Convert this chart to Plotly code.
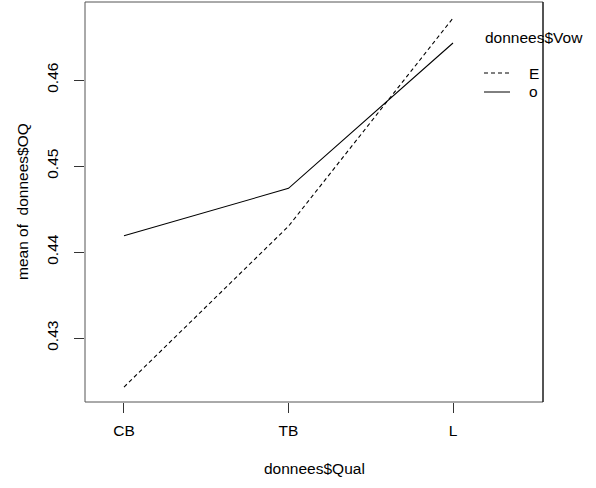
import plotly.graph_objects as go

qual_levels = ["CB", "TB", "L"]
vowel_levels = ["E", "o"]
mean_E = [0.4243, 0.4430, 0.4672]
mean_o = [0.4419, 0.4474, 0.4643]
y_ticks = [0.43, 0.44, 0.45, 0.46]

FONT = "Liberation Sans, Arial, sans-serif"
FS = 15.5
xpos = [1, 2, 3]

fig = go.Figure()
fig.add_trace(go.Scatter(x=xpos, y=mean_E, mode="lines", name="E",
                         line=dict(color="black", width=1.1, dash="4px,3px"),
                         showlegend=False))
fig.add_trace(go.Scatter(x=xpos, y=mean_o, mode="lines", name="o",
                         line=dict(color="black", width=1.1),
                         showlegend=False))

W, H = 596, 488
L, R, T, B = 85, 53, 2, 86

fig.update_layout(
    width=W, height=H,
    margin=dict(l=L, r=R, t=T, b=B, pad=0),
    plot_bgcolor="white", paper_bgcolor="white",
    font=dict(family=FONT, size=FS, color="black"),
    xaxis=dict(range=[0.763, 3.547], tickvals=xpos, ticktext=qual_levels,
               showgrid=False, zeroline=False, showline=False,
               ticks="outside", ticklen=10, tickwidth=1, tickcolor="#333",
               ticklabelstandoff=4),
    yaxis=dict(range=[0.42256, 0.46907], tickvals=y_ticks,
               ticktext=[f"{v:.2f}" for v in y_ticks],
               tickangle=-90,
               showgrid=False, zeroline=False, showline=False,
               ticks="outside", ticklen=10, tickwidth=1, tickcolor="#333",
               ticklabelstandoff=10),
)

pw, ph = W - L - R, H - T - B
def px(x):
    return (x - L) / pw
def py(y):
    return 1 - (y - T) / ph

# axis titles
fig.add_annotation(text="donnees$Qual", xref="paper", yref="paper",
                   x=0.5, y=-(468 - 402) / ph, showarrow=False,
                   xanchor="center", yanchor="middle")
fig.add_annotation(text="mean of  donnees$OQ", xref="paper", yref="paper",
                   x=-(85 - 22) / pw, y=0.5, textangle=-90, showarrow=False,
                   xanchor="center", yanchor="middle")

# legend (drawn manually, R style, no box)
fig.add_annotation(text="donnees$Vow", xref="paper", yref="paper",
                   x=px(483), y=py(37), showarrow=False,
                   xanchor="left", yanchor="middle")
legend_y = [73, 92]
legend_dash = ["4px,3px", "solid"]
for lab, yy, d in zip(vowel_levels, legend_y, legend_dash):
    fig.add_shape(type="line", xref="paper", yref="paper",
                  x0=px(484), x1=px(510), y0=py(yy), y1=py(yy),
                  line=dict(color="black", width=1, dash=d))
    fig.add_annotation(text=lab, xref="paper", yref="paper",
                       x=px(527), y=py(yy), showarrow=False,
                       xanchor="left", yanchor="middle")

# plot box (grey left/top/bottom, black right edge as in reference)
fig.add_shape(type="rect", xref="paper", yref="paper", x0=0, x1=1, y0=0, y1=1,
              line=dict(color="#555", width=1))
fig.add_shape(type="line", xref="paper", yref="paper", x0=1, x1=1, y0=0, y1=1,
              line=dict(color="black", width=1))

fig.write_html("out.html")
